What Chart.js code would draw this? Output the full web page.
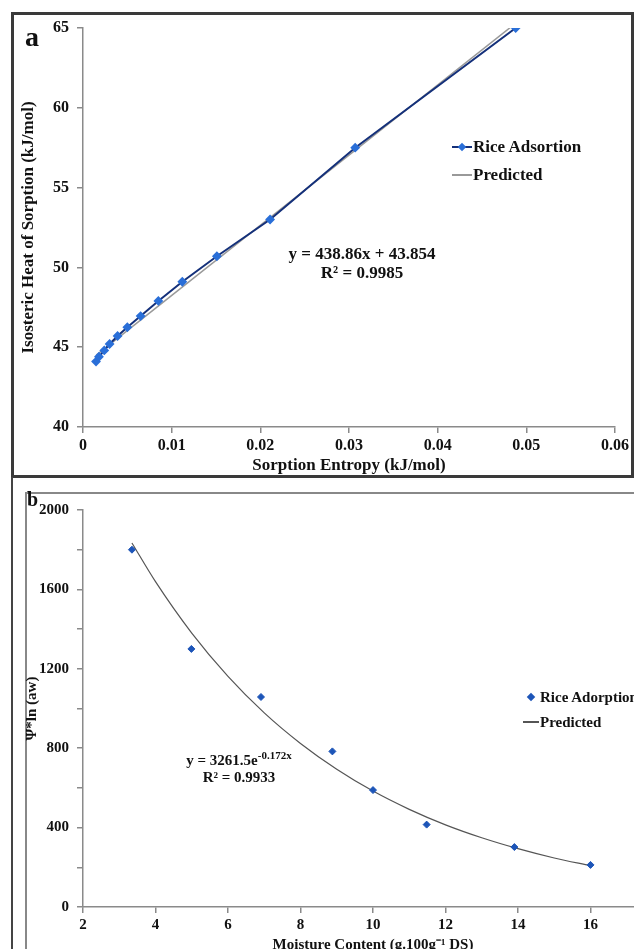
<!DOCTYPE html>
<html>
<head>
<meta charset="utf-8">
<script src="https://cdn.jsdelivr.net/npm/chart.js@4.4.1/dist/chart.umd.min.js"></script>
<style>
  html, body { margin: 0; padding: 0; background: #fff; overflow: hidden; }
  body { width: 634px; height: 949px; position: relative; font-family: "Liberation Serif", "Times New Roman", serif; font-weight: bold; color: #111; }
  .abs { position: absolute; }
  .txt { position: absolute; white-space: nowrap; }
  #wrapA { position: absolute; left: 0; top: 0; width: 634px; height: 480px; }
  #wrapB { position: absolute; left: 0; top: 480px; width: 700px; height: 490px; }
  .diamond { position: absolute; width: 6px; height: 6px; transform: rotate(45deg); }
</style>
</head>
<body>

<div class="abs" style="left:11px; top:12px; width:623px; height:466px; border:3px solid #3a3a3a; box-sizing:border-box;"></div>
<div class="abs" style="left:11px; top:477px; width:2px; height:472px; background:#444;"></div>
<div class="abs" style="left:25px; top:492px; width:2px; height:457px; background:#888;"></div>
<div class="abs" style="left:25px; top:492px; width:609px; height:2px; background:#888;"></div>

<div id="wrapA"><canvas id="chartA" width="634" height="480"></canvas></div>
<div id="wrapB"><canvas id="chartB" width="700" height="490"></canvas></div>

<!-- panel a annotations -->
<div class="txt" style="left:25px; top:23px; font-size:28px; line-height:28px;">a</div>
<div class="abs" style="left:452px; top:146px; width:20px; height:2px; background:#14307a;"></div>
<div class="diamond" style="left:459px; top:144px; background:#2a6fd8;"></div>
<div class="txt" style="left:473px; top:137px; font-size:17px; line-height:20px;">Rice Adsortion</div>
<div class="abs" style="left:452px; top:174px; width:20px; height:2px; background:#999;"></div>
<div class="txt" style="left:473px; top:165px; font-size:17px; line-height:20px;">Predicted</div>
<div class="txt" style="left:262px; top:244px; width:200px; text-align:center; font-size:17px; line-height:19px;">y = 438.86x + 43.854<br>R² = 0.9985</div>

<!-- panel b annotations -->
<div class="txt" style="left:27px; top:489px; font-size:20px; line-height:20px;">b</div>
<div class="diamond" style="left:528px; top:694px; background:#1d55b8;"></div>
<div class="txt" style="left:540px; top:688px; font-size:15px; line-height:18px;">Rice Adorption</div>
<div class="abs" style="left:523px; top:721px; width:16px; height:1.5px; background:#555;"></div>
<div class="txt" style="left:540px; top:713px; font-size:15px; line-height:18px;">Predicted</div>
<div class="txt" style="left:159px; top:752px; width:160px; text-align:center; font-size:15px; line-height:17px;">y = 3261.5e<sup style="font-size:11px; vertical-align:6px; line-height:0;">-0.172x</sup><br>R² = 0.9933</div>

<script>
// panel a: sorption entropy vs isosteric heat
const entropyA = [0.00147, 0.0018, 0.0024, 0.0030, 0.0039, 0.0050, 0.0065, 0.0085, 0.0112, 0.0151, 0.0211, 0.0307, 0.0488];
const heatA = [44.1, 44.4, 44.8, 45.2, 45.7, 46.25, 46.95, 47.9, 49.1, 50.7, 53.0, 57.5, 65.0];
const predEntropyA = [0.0015, 0.0488];
const predHeatA = [44.5, 65.3];

// panel b: moisture content vs psi*ln(aw)
const moistureB = [3.35, 4.99, 6.91, 8.88, 10.0, 11.48, 13.9, 16.0];
const psiB = [1800, 1300, 1058, 784, 589, 415, 302, 212];
const predMoistureB = [3.35, 4, 5, 6, 7, 8, 9, 10, 11, 12, 13, 14, 15, 16];
const predPsiB = [1834, 1639, 1380, 1162, 978, 824, 694, 584, 492, 414, 349, 294, 247, 208];

const FONT = "'Liberation Serif', 'Times New Roman', serif";
const tickFontA = { family: FONT, size: 16, weight: "bold" };
const titleFontA = { family: FONT, size: 17, weight: "bold" };
const tickFontB = { family: FONT, size: 15, weight: "bold" };
const titleFontB = { family: FONT, size: 15, weight: "bold" };
const axisGrey = "#8a8a8a";

function toPoints(xs, ys) {
  return xs.map((x, i) => ({ x, y: ys[i] }));
}

function axis(extra) {
  return Object.assign({
    type: "linear",
    grid: { drawOnChartArea: false, drawTicks: true, tickLength: 6, color: axisGrey, lineWidth: 1.5 },
    border: { display: true, color: axisGrey, width: 1.5 },
  }, extra);
}

function createChartA() {
  const ctx = document.getElementById("chartA").getContext("2d");
  new Chart(ctx, {
    type: "scatter",
    data: {
      datasets: [
        {
          label: "Rice Adsortion",
          data: toPoints(entropyA, heatA),
          showLine: true,
          borderColor: "#14307a",
          borderWidth: 2,
          pointStyle: "rectRot",
          pointRadius: 3.5,
          pointBackgroundColor: "#2a6fd8",
          pointBorderColor: "#2a6fd8",
          order: 1,
        },
        {
          label: "Predicted",
          data: toPoints(predEntropyA, predHeatA),
          showLine: true,
          borderColor: "#999",
          borderWidth: 1.5,
          pointRadius: 0,
          order: 2,
        },
      ],
    },
    options: {
      responsive: false,
      animation: false,
      layout: { padding: { left: 0, top: 28, right: 19, bottom: 0 } },
      plugins: { legend: { display: false }, tooltip: { enabled: false } },
      scales: {
        x: axis({
          min: 0, max: 0.06,
          afterFit: (s) => { s.height = 53; },
          ticks: { stepSize: 0.01, font: tickFontA, color: "#111", padding: 3, callback: (v) => String(+v.toFixed(2)) },
          title: { display: true, text: "Sorption Entropy (kJ/mol)", font: titleFontA, color: "#111", padding: { top: 0, bottom: 4 } },
        }),
        y: axis({
          min: 40, max: 65,
          afterFit: (s) => { s.width = 83; },
          ticks: { stepSize: 5, font: tickFontA, color: "#111", padding: 8 },
          title: { display: true, text: "Isosteric Heat of Sorption (kJ/mol)", font: titleFontA, color: "#111", padding: { top: 18, bottom: 0 } },
        }),
      },
    },
  });
}

function createChartB() {
  const ctx = document.getElementById("chartB").getContext("2d");
  new Chart(ctx, {
    type: "scatter",
    data: {
      datasets: [
        {
          label: "Rice Adorption",
          data: toPoints(moistureB, psiB),
          pointStyle: "rectRot",
          pointRadius: 3.5,
          pointBackgroundColor: "#1d55b8",
          pointBorderColor: "#1d55b8",
          order: 1,
        },
        {
          label: "Predicted",
          data: toPoints(predMoistureB, predPsiB),
          showLine: true,
          borderColor: "#555",
          borderWidth: 1.2,
          pointRadius: 0,
          cubicInterpolationMode: "monotone",
          order: 2,
        },
      ],
    },
    options: {
      responsive: false,
      animation: false,
      layout: { padding: { left: 0, top: 30, right: 37, bottom: 0 } },
      plugins: { legend: { display: false }, tooltip: { enabled: false } },
      scales: {
        x: axis({
          min: 2, max: 18,
          afterFit: (s) => { s.height = 63; },
          ticks: { stepSize: 2, font: tickFontB, color: "#111", padding: 3 },
          title: { display: true, text: "Moisture Content (g.100g⁻¹ DS)", font: titleFontB, color: "#111", padding: { top: 0, bottom: 16 } },
        }),
        y: axis({
          min: 0, max: 2000,
          afterFit: (s) => { s.width = 83; },
          ticks: { stepSize: 200, autoSkip: false, font: tickFontB, color: "#111", padding: 8, callback: (v) => (v % 400 === 0 ? String(v) : "") },
          title: { display: true, text: "Ψ*ln (aw)", font: titleFontB, color: "#111", padding: { top: 23, bottom: 0 } },
        }),
      },
    },
  });
}

document.addEventListener("DOMContentLoaded", () => {
  createChartA();
  createChartB();
});
</script>
</body>
</html>
